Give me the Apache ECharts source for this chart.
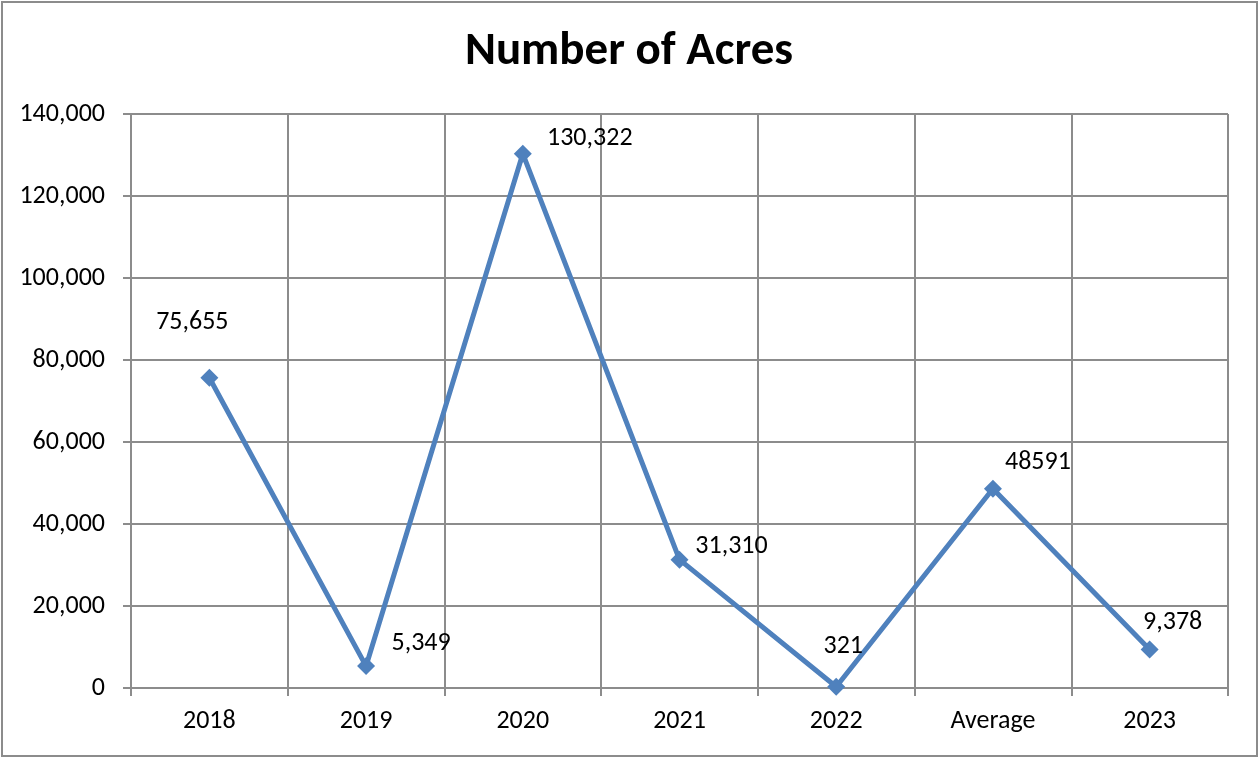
<!DOCTYPE html>
<html><head><meta charset="utf-8">
<script src="https://cdn.jsdelivr.net/npm/echarts@6/dist/echarts.min.js"></script>
<style>html,body{margin:0;padding:0;background:#fff}#c{width:1258px;height:757px}
#frame{position:absolute;left:1px;top:1px;width:1253px;height:752px;border:2px solid #8c8c8c;box-sizing:content-box;pointer-events:none}</style>
</head><body>
<div id="c"></div>
<script>
const categories = ['2018','2019','2020','2021','2022','Average','2023'];
const values = [75655, 5349, 130322, 31310, 321, 48591, 9378];
const labelTexts = ['75,655','5,349','130,322','31,310','321','48591','9,378'];
const labelOffsets = [[-17,-55],[55,-23],[67,-15],[52,-13],[7,-40],[45,-26],[23,-27]];
const yTicks = {min:0, max:140000, interval:20000};

const chart = echarts.init(document.getElementById('c'));
const font = "Carlito, Lato, 'Open Sans', sans-serif";
chart.setOption({
  animation:false,
  backgroundColor:'#fff',
  title:{text:'Number of Acres', left:'center', top:24, textStyle:{fontFamily:font, fontSize:47, fontWeight:'bold', color:'#000'}},
  grid:{left:131, right:30, top:114, bottom:69, show:false},
  xAxis:{type:'category', data:categories, boundaryGap:true,
    axisLine:{lineStyle:{color:'#8c8c8c', width:2}},
    axisTick:{show:true, length:8, lineStyle:{color:'#8c8c8c', width:2}},
    axisLabel:{fontFamily:font, fontSize:26, color:'#000', margin:20},
    splitLine:{show:true, lineStyle:{color:'#8c8c8c', width:2}}},
  yAxis:{type:'value', min:yTicks.min, max:yTicks.max, interval:yTicks.interval,
    axisLine:{show:true, lineStyle:{color:'#8c8c8c', width:2}},
    axisTick:{show:true, length:8, lineStyle:{color:'#8c8c8c', width:2}},
    axisLabel:{fontFamily:font, fontSize:26, color:'#000', margin:26,
      formatter:v=>v.toLocaleString('en-US')},
    splitLine:{show:true, lineStyle:{color:'#8c8c8c', width:2}}},
  series:[{type:'line', symbol:'diamond', symbolSize:18,
    lineStyle:{color:'#4F81BD', width:5}, itemStyle:{color:'#4F81BD'},
    data: values.map((v,i)=>({value:v, label:{show:true, position:'inside', offset:labelOffsets[i],
      formatter:labelTexts[i], fontFamily:font, fontSize:26, color:'#000'}}))}]
});
</script>
<div id="frame"></div>
</body></html>
